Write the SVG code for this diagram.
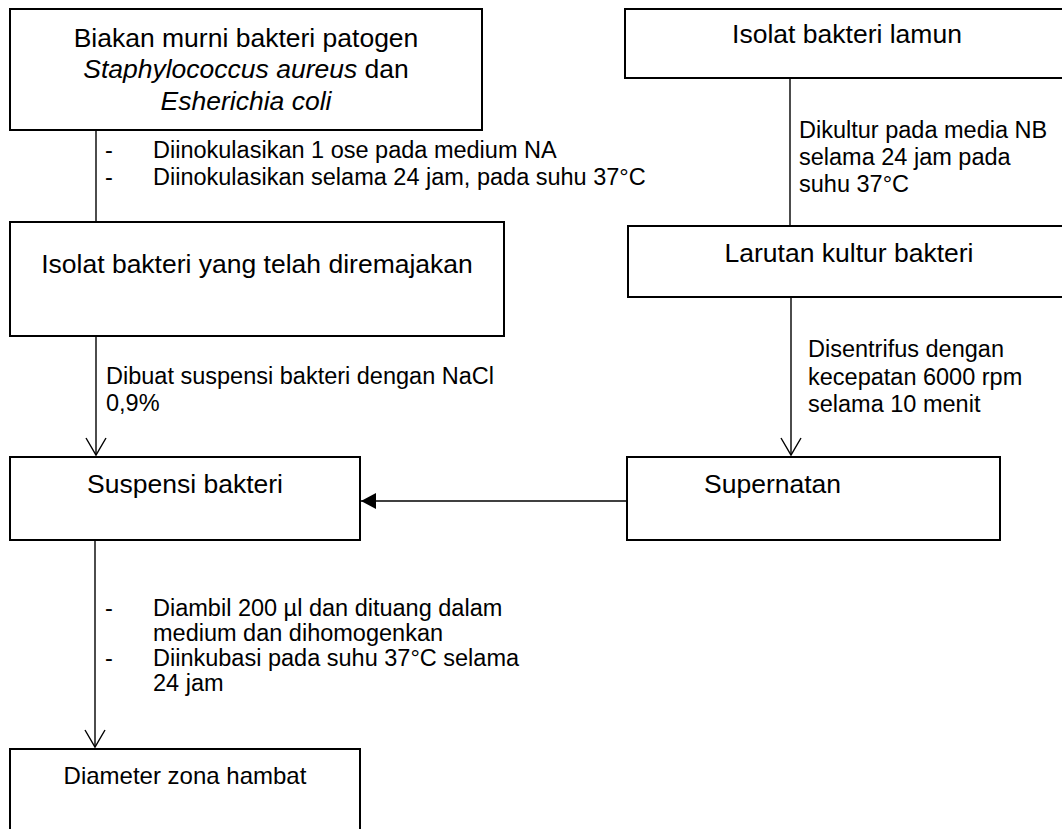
<svg xmlns="http://www.w3.org/2000/svg" width="1062" height="829" viewBox="0 0 1062 829">
<style>
.box{fill:#fff;stroke:#000;stroke-width:2}
.t{font-family:"Liberation Sans",Arial,sans-serif;fill:#000}
.bt{font-size:26.5px;text-anchor:middle}
.at{font-size:23.5px}
.c{fill:none;stroke:#000;stroke-width:1.4}
</style>
<defs>
<marker id="open" markerWidth="22" markerHeight="22" refX="19" refY="11" orient="auto" markerUnits="userSpaceOnUse">
<path d="M2,1 L19,11 L2,21" fill="none" stroke="#000" stroke-width="1.4"/>
</marker>
<marker id="solid" markerWidth="16" markerHeight="18" refX="15" refY="9" orient="auto" markerUnits="userSpaceOnUse">
<path d="M0,1 L15,9 L0,17 Z" fill="#000"/>
</marker>
</defs>
<rect width="1062" height="829" fill="#fff"/>
<g id="connectors">
<line class="c" x1="96" y1="130" x2="96" y2="222"/>
<line class="c" x1="790" y1="78" x2="790" y2="226"/>
<line class="c" x1="96" y1="336" x2="96" y2="455" marker-end="url(#open)"/>
<line class="c" x1="791" y1="297" x2="791" y2="455" marker-end="url(#open)"/>
<line class="c" x1="627" y1="501" x2="361" y2="501" marker-end="url(#solid)"/>
<line class="c" x1="95" y1="540" x2="95" y2="747" marker-end="url(#open)"/>
</g>
<g id="n1">
<rect class="box" x="10" y="9" width="472" height="121"/>
<text class="t bt" x="246" y="47">Biakan murni bakteri patogen</text>
<text class="t bt" x="246" y="78"><tspan font-style="italic">Staphylococcus aureus</tspan> dan</text>
<text class="t bt" x="246" y="110" font-style="italic">Esherichia coli</text>
</g>
<g id="n2">
<rect class="box" x="625" y="9" width="444" height="69"/>
<text class="t bt" x="847" y="43">Isolat bakteri lamun</text>
</g>
<g id="n3">
<rect class="box" x="10" y="222" width="494" height="114"/>
<text class="t bt" x="257" y="273">Isolat bakteri yang telah diremajakan</text>
</g>
<g id="n4">
<rect class="box" x="628" y="226" width="442" height="71"/>
<text class="t bt" x="849" y="262">Larutan kultur bakteri</text>
</g>
<g id="n5">
<rect class="box" x="10" y="457" width="350" height="83"/>
<text class="t bt" x="185" y="493">Suspensi bakteri</text>
</g>
<g id="n6">
<rect class="box" x="627" y="457" width="373" height="83"/>
<text class="t" x="704" y="493" style="font-size:26.5px">Supernatan</text>
</g>
<g id="n7">
<rect class="box" x="10" y="749" width="350" height="100"/>
<text class="t bt" x="185" y="784" style="font-size:24px">Diameter zona hambat</text>
</g>
<g id="labels">
<text class="t at" x="105" y="158">-</text>
<text class="t at" x="153" y="158">Diinokulasikan 1 ose pada medium NA</text>
<text class="t at" x="105" y="185">-</text>
<text class="t at" x="153" y="185">Diinokulasikan selama 24 jam, pada suhu 37°C</text>
<text class="t at" x="799" y="138">Dikultur pada media NB</text>
<text class="t at" x="799" y="165">selama 24 jam pada</text>
<text class="t at" x="799" y="192">suhu 37°C</text>
<text class="t at" x="106" y="384">Dibuat suspensi bakteri dengan NaCl</text>
<text class="t at" x="106" y="411">0,9%</text>
<text class="t at" x="808" y="357">Disentrifus dengan</text>
<text class="t at" x="808" y="385">kecepatan 6000 rpm</text>
<text class="t at" x="808" y="412">selama 10 menit</text>
<text class="t at" x="105" y="616">-</text>
<text class="t at" x="153" y="616">Diambil 200 µl dan dituang dalam</text>
<text class="t at" x="153" y="641">medium dan dihomogenkan</text>
<text class="t at" x="105" y="666">-</text>
<text class="t at" x="153" y="666">Diinkubasi pada suhu 37°C selama</text>
<text class="t at" x="153" y="691">24 jam</text>
</g>
</svg>
